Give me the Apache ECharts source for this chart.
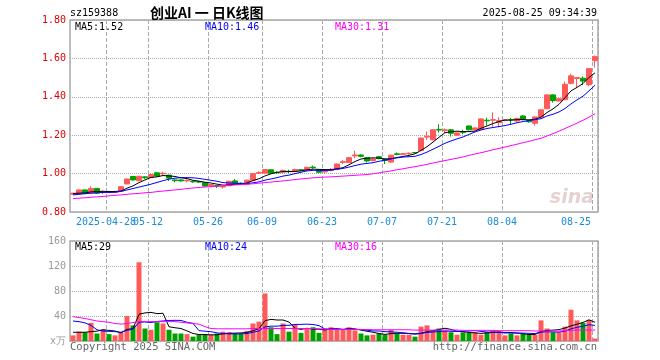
<!DOCTYPE html>
<html><head><meta charset="utf-8">
<script src="https://cdn.jsdelivr.net/npm/echarts@6/dist/echarts.min.js"></script>
<style>html,body{margin:0;padding:0;background:#fff}#c{width:660px;height:360px}</style>
</head><body><div id="c"></div>
<script>
const dates = ['2025-04-18','2025-04-21','2025-04-22','2025-04-23','2025-04-24','2025-04-25','2025-04-28','2025-04-29','2025-04-30','2025-05-06',
'2025-05-07','2025-05-08','2025-05-09','2025-05-12','2025-05-13','2025-05-14','2025-05-15','2025-05-16','2025-05-19','2025-05-20',
'2025-05-21','2025-05-22','2025-05-23','2025-05-26','2025-05-27','2025-05-28','2025-05-29','2025-05-30','2025-06-03','2025-06-04',
'2025-06-05','2025-06-06','2025-06-09','2025-06-10','2025-06-11','2025-06-12','2025-06-13','2025-06-16','2025-06-17','2025-06-18',
'2025-06-19','2025-06-20','2025-06-23','2025-06-24','2025-06-25','2025-06-26','2025-06-27','2025-06-30','2025-07-01','2025-07-02',
'2025-07-03','2025-07-04','2025-07-07','2025-07-08','2025-07-09','2025-07-10','2025-07-11','2025-07-14','2025-07-15','2025-07-16',
'2025-07-17','2025-07-18','2025-07-21','2025-07-22','2025-07-23','2025-07-24','2025-07-25','2025-07-28','2025-07-29','2025-07-30',
'2025-07-31','2025-08-01','2025-08-04','2025-08-05','2025-08-06','2025-08-07','2025-08-08','2025-08-11','2025-08-12','2025-08-13',
'2025-08-14','2025-08-15','2025-08-18','2025-08-19','2025-08-20','2025-08-21','2025-08-22','2025-08-25'];

const opens = [0.893,0.895,0.915,0.899,0.923,0.901,0.907,0.903,0.910,0.946,
0.985,0.963,0.983,0.980,1.004,0.999,0.992,0.967,0.967,0.962,
0.960,0.958,0.953,0.936,0.937,0.930,0.937,0.962,0.950,0.945,
0.966,1.002,1.002,1.020,1.006,1.008,1.012,1.014,1.020,1.018,
1.034,1.020,1.009,1.016,1.022,1.058,1.057,1.092,1.097,1.083,
1.068,1.088,1.076,1.060,1.103,1.100,1.104,1.110,1.120,1.190,
1.176,1.230,1.225,1.228,1.200,1.218,1.248,1.228,1.230,1.278,
1.278,1.266,1.277,1.282,1.274,1.300,1.276,1.262,1.295,1.338,
1.410,1.378,1.385,1.470,1.495,1.497,1.463,1.588];

const closes = [0.898,0.915,0.898,0.923,0.898,0.905,0.904,0.906,0.932,0.972,
0.967,0.986,0.978,0.995,0.987,1.002,0.976,0.963,0.962,0.965,
0.957,0.956,0.935,0.943,0.934,0.933,0.960,0.948,0.947,0.966,
1.000,1.006,1.021,1.002,1.004,1.017,1.010,1.021,1.018,1.033,
1.031,1.007,1.014,1.022,1.050,1.062,1.083,1.097,1.090,1.066,
1.076,1.078,1.068,1.096,1.100,1.104,1.106,1.108,1.185,1.195,
1.228,1.227,1.228,1.210,1.212,1.215,1.228,1.238,1.285,1.275,
1.281,1.276,1.280,1.280,1.288,1.283,1.270,1.295,1.332,1.410,
1.380,1.390,1.465,1.509,1.500,1.482,1.547,1.609];

const lows = [0.890,0.892,0.895,0.897,0.896,0.893,0.900,0.899,0.908,0.944,
0.963,0.960,0.972,0.977,0.985,0.987,0.962,0.955,0.958,0.955,
0.952,0.951,0.933,0.930,0.925,0.922,0.935,0.945,0.940,0.943,
0.964,0.998,1.000,1.000,0.998,1.005,1.003,1.010,1.012,1.015,
1.025,1.004,1.000,1.012,1.020,1.050,1.055,1.080,1.085,1.058,
1.064,1.075,1.050,1.055,1.095,1.096,1.098,1.104,1.118,1.175,
1.172,1.214,1.212,1.193,1.195,1.205,1.225,1.225,1.228,1.251,
1.244,1.241,1.272,1.255,1.265,1.278,1.265,1.250,1.292,1.335,
1.370,1.375,1.383,1.465,1.447,1.462,1.455,1.552];

const highs = [0.900,0.917,0.917,0.935,0.925,0.912,0.910,0.911,0.934,0.975,
0.988,0.988,0.986,0.997,1.008,1.010,0.994,0.970,0.970,0.970,
0.962,0.960,0.955,0.946,0.940,0.936,0.962,0.972,0.955,0.968,
1.002,1.012,1.024,1.022,1.012,1.020,1.020,1.026,1.024,1.035,
1.042,1.022,1.020,1.028,1.052,1.070,1.086,1.120,1.100,1.086,
1.080,1.090,1.078,1.098,1.110,1.108,1.110,1.112,1.188,1.220,
1.230,1.257,1.235,1.232,1.215,1.228,1.250,1.240,1.288,1.291,
1.319,1.293,1.283,1.290,1.289,1.305,1.280,1.298,1.335,1.412,
1.412,1.395,1.480,1.520,1.502,1.506,1.550,1.615];

const ma5 = [0.896,0.898,0.899,0.905,0.906,0.908,0.906,0.907,0.909,0.924,
0.936,0.953,0.967,0.980,0.983,0.990,0.988,0.985,0.978,0.974,
0.965,0.961,0.955,0.951,0.945,0.940,0.941,0.944,0.944,0.951,
0.964,0.973,0.988,0.999,1.007,1.010,1.011,1.011,1.014,1.020,
1.023,1.022,1.021,1.021,1.025,1.031,1.046,1.063,1.076,1.080,
1.082,1.081,1.076,1.077,1.084,1.089,1.095,1.103,1.121,1.140,
1.164,1.189,1.213,1.218,1.221,1.218,1.219,1.221,1.236,1.248,
1.261,1.271,1.279,1.278,1.281,1.281,1.280,1.283,1.294,1.318,
1.337,1.361,1.395,1.431,1.449,1.469,1.501,1.525];

const ma10 = [0.889,0.892,0.895,0.898,0.900,0.902,0.902,0.903,0.907,0.915,
0.922,0.930,0.937,0.945,0.954,0.963,0.971,0.976,0.979,0.979,
0.978,0.975,0.970,0.965,0.960,0.953,0.951,0.950,0.948,0.948,
0.952,0.957,0.966,0.972,0.979,0.987,0.992,1.000,1.007,1.014,
1.017,1.017,1.016,1.018,1.023,1.027,1.034,1.042,1.049,1.053,
1.057,1.064,1.070,1.077,1.082,1.086,1.088,1.090,1.099,1.112,
1.127,1.142,1.158,1.170,1.181,1.191,1.204,1.217,1.227,1.235,
1.240,1.245,1.250,1.257,1.265,1.271,1.276,1.281,1.286,1.300,
1.309,1.321,1.339,1.363,1.384,1.403,1.431,1.460];

const ma30 = [0.870,0.872,0.874,0.877,0.879,0.881,0.884,0.887,0.889,0.892,
0.895,0.897,0.900,0.902,0.906,0.909,0.912,0.915,0.918,0.922,
0.925,0.928,0.930,0.932,0.935,0.937,0.939,0.941,0.943,0.945,
0.947,0.950,0.953,0.956,0.959,0.962,0.965,0.969,0.972,0.975,
0.978,0.980,0.982,0.983,0.985,0.987,0.989,0.991,0.993,0.995,
0.999,1.004,1.009,1.014,1.020,1.025,1.031,1.036,1.042,1.048,
1.055,1.062,1.068,1.074,1.080,1.087,1.095,1.102,1.109,1.116,
1.124,1.131,1.138,1.146,1.153,1.161,1.168,1.176,1.184,1.196,
1.208,1.221,1.235,1.249,1.263,1.278,1.294,1.312];

const volumes = [9,15,14,29,12,19,11,9,14,40,
25,126,20,18,30,28,18,12,12,11,
7,10,11,10,12,15,14,12,12,16,
28,31,76,22,11,28,15,26,13,20,
22,13,20,22,18,18,22,17,12,9,
10,12,10,18,12,10,10,7,23,25,
17,20,17,14,10,14,13,14,10,14,
17,16,9,12,9,12,10,10,33,20,
14,14,23,50,33,29,34,4];

const vma5 = [14,14,14,15,15.8,17.8,17,16,13,18.6,
19.8,42.8,45,45.8,43.8,44.4,22.8,21.2,20,16.2,
12,10.4,10.2,9.8,10,11.6,12.4,12.6,13,13.8,
16.4,19.8,32.6,34.6,33.6,33.6,30.4,20.4,18.6,20.4,
19.2,18.8,17.6,19.4,19,18.2,20,19.4,17.4,15.6,
14,12,10.6,11.8,12.4,12.4,12,11.4,12.4,15,
16.4,18.4,20.4,18.6,15.6,15,13.6,13,12.2,13,
13.6,14.2,13.2,13.6,12.6,11.6,10.4,10.6,14.8,17,
17.4,18.2,20.8,24.2,26.8,29.8,33.8,30];

const vma10 = [32,31,29,25,18,15.9,15.5,15,14,17.2,
18.8,29.9,30.5,29.4,31.2,32.1,32.8,33.1,32.9,30,
28.2,16.6,15.7,14.9,13.1,11.8,11.4,11.4,11.4,11.9,
14,16.1,22.6,23.8,23.7,25,25.1,26.5,26.6,27,
26.4,24.6,19,19,19.7,18.7,19.4,18.5,18.4,17.3,
16.1,16,15,14.6,14,13.2,12,11,12.1,13.7,
14.4,15.2,15.9,15.5,15.3,15.7,16,16.7,15.4,14.3,
14.3,13.9,13.1,12.9,12.8,12.6,12.3,11.9,14.2,14.8,
14.5,14.3,15.7,19.5,21.9,23.6,26,25];

const vma30 = [39,37.5,36,34,32,31,30,28,27,28,
29.5,31,31,31,31,31,31,31,30,29,
28,27,23,20,19.5,19.5,19.5,19.5,19.5,19.5,
20,20,20,20,20,20,20,20,20,20,
20,19.5,19,18.5,18.5,18.5,18.5,18.5,18.5,18.5,
18,18,18,18,18,18,18,17.5,17.5,17.5,
17.5,17.5,17.5,17.5,17.5,17,17,17,17,17,
17,16.5,16.5,16.5,16.5,16.5,16.5,16,16,16,
16,16,16.5,17,17.5,17.5,17.5,17.5];

const tickDates = ['2025-04-28','2025-05-12','2025-05-26','2025-06-09','2025-06-23','2025-07-07','2025-07-21','2025-08-04','2025-08-25'];
const tickLabels = ['2025-04-28','05-12','05-26','06-09','06-23','07-07','07-21','08-04','08-25'];

const headerCode = 'sz159388';
const headerTitle = '创业AI 一 日K线图';
const headerTime = '2025-08-25 09:34:39';
const priceLegend = ['MA5:1.52', 'MA10:1.46', 'MA30:1.31'];
const volLegend = ['MA5:29', 'MA10:24', 'MA30:16'];
const volUnit = 'x万';
const copyrightText = 'Copyright 2025 SINA.COM';
const urlText = 'http://finance.sina.com.cn';

const MONO = '"DejaVu Sans Mono","Liberation Mono",monospace';
const UP = '#ff5a5a', DOWN = '#00a000';
const LABEL_BLUE = '#1a8cd8';
const LINECOLORS = ['#000000', '#0000ff', '#ff00ff'];

const chart = echarts.init(document.getElementById('c'), null, {renderer: 'canvas'});
const isTick = (idx) => tickDates.indexOf(dates[idx]) >= 0;
const isFirstTick = (idx) => dates[idx] === tickDates[0];
const isLaterTick = (idx) => isTick(idx) && !isFirstTick(idx);
const candleData = opens.map((o, i) => [o, closes[i], lows[i], highs[i]]);
const volData = volumes.map((v, i) => ({value: v, itemStyle: {color: closes[i] >= opens[i] ? UP : DOWN}}));

const GL = 70, GW = 528;
const splitX = {show: true, interval: isTick, lineStyle: {color: '#aaaaaa', type: 'dashed', width: 1}};
const tickX = {show: true, interval: isTick, length: 0, inside: true, lineStyle: {color: 'rgba(0,0,0,0)'}};
const richLbl = {
  n: {padding: [0, 6, 0, 0], color: LABEL_BLUE, fontFamily: MONO, fontSize: 10},
  r: {padding: [0, 38, 0, 0], color: LABEL_BLUE, fontFamily: MONO, fontSize: 10}
};
const fmtLabel = (val) => {
  const k = tickDates.indexOf(val);
  return k === tickDates.length - 1 ? '{r|' + tickLabels[k] + '}' : '{n|' + tickLabels[k] + '}';
};
const lineSeries = (name, data, color, xi, yi) => ({
  name, type: 'line', data, xAxisIndex: xi, yAxisIndex: yi, symbol: 'none', silent: true,
  lineStyle: {color, width: 1}, z: 5
});

function txt(x, y, text, color, opts) {
  return Object.assign({type: 'text', x, y, silent: true, z: 100,
    style: Object.assign({text, fill: color, font: '10px ' + MONO, textVerticalAlign: 'middle'}, opts || {})});
}

const option = {
  animation: false,
  backgroundColor: '#ffffff',
  grid: [
    {left: GL, top: 20, width: GW, height: 192, show: true, borderColor: '#a8a8a8', borderWidth: 1.5, backgroundColor: 'transparent', outerBoundsMode: 'none'},
    {left: GL, top: 241, width: GW, height: 100, show: true, borderColor: '#a8a8a8', borderWidth: 1.5, backgroundColor: 'transparent', outerBoundsMode: 'none'}
  ],
  xAxis: [
    {type: 'category', gridIndex: 0, data: dates, boundaryGap: true,
     axisLine: {show: false}, axisTick: tickX,
     axisLabel: {interval: isLaterTick, hideOverlap: false, margin: 5, color: LABEL_BLUE, fontFamily: MONO, fontSize: 10,
       formatter: fmtLabel, rich: richLbl},
     splitLine: splitX},
    {type: 'category', gridIndex: 1, data: dates, boundaryGap: true,
     axisLine: {show: false}, axisTick: tickX, axisLabel: {show: false, interval: isTick},
     splitLine: splitX},
    {type: 'category', gridIndex: 0, data: dates, boundaryGap: true, position: 'bottom',
     axisLine: {show: false}, axisTick: {show: false}, splitLine: {show: false},
     axisLabel: {interval: isFirstTick, hideOverlap: false, margin: 5, color: LABEL_BLUE, fontFamily: MONO, fontSize: 10,
       formatter: fmtLabel, rich: richLbl}}
  ],
  yAxis: [
    {type: 'value', gridIndex: 0, min: 0.8, max: 1.8, interval: 0.2, scale: false,
     axisLine: {show: false}, axisTick: {show: false},
     axisLabel: {color: '#e00000', fontFamily: MONO, fontSize: 10, margin: 4, formatter: v => v.toFixed(2)},
     splitLine: {show: true, lineStyle: {color: '#aaaaaa', type: 'dotted', width: 1}}},
    {type: 'value', gridIndex: 1, min: 0, max: 160, interval: 40,
     axisLine: {show: false}, axisTick: {show: false},
     axisLabel: {color: '#999999', fontFamily: MONO, fontSize: 10, margin: 4,
       formatter: v => v === 0 ? volUnit : String(v)},
     splitLine: {show: true, lineStyle: {color: '#aaaaaa', type: 'dotted', width: 1}}}
  ],
  series: [
    {type: 'candlestick', name: 'K', data: candleData, xAxisIndex: 0, yAxisIndex: 0, barWidth: 5, silent: true,
     itemStyle: {color: UP, color0: DOWN, borderColor: UP, borderColor0: DOWN, borderWidth: 1}, z: 3},
    lineSeries('MA5', ma5, LINECOLORS[0], 0, 0),
    lineSeries('MA10', ma10, LINECOLORS[1], 0, 0),
    lineSeries('MA30', ma30, LINECOLORS[2], 0, 0),
    {type: 'bar', name: 'VOL', data: volData, xAxisIndex: 1, yAxisIndex: 1, barWidth: 5, silent: true, z: 3},
    lineSeries('VMA5', vma5, LINECOLORS[0], 1, 1),
    lineSeries('VMA10', vma10, LINECOLORS[1], 1, 1),
    lineSeries('VMA30', vma30, LINECOLORS[2], 1, 1)
  ],
  graphic: [
    txt(70, 13, headerCode, '#000000'),
    txt(150, 13, headerTitle, '#000000', {font: 'bold 14px "Noto Sans CJK SC"'}),
    txt(597, 13, headerTime, '#000000', {textAlign: 'right'}),
    txt(75, 27, priceLegend[0], LINECOLORS[0]),
    txt(205, 27, priceLegend[1], LINECOLORS[1]),
    txt(335, 27, priceLegend[2], LINECOLORS[2]),
    txt(75, 247, volLegend[0], LINECOLORS[0]),
    txt(205, 247, volLegend[1], LINECOLORS[1]),
    txt(335, 247, volLegend[2], LINECOLORS[2]),
    txt(70, 347, copyrightText, '#666666', {font: '10.5px ' + MONO}),
    txt(597, 347, urlText, '#666666', {textAlign: 'right', font: '10.5px ' + MONO}),
    txt(594, 198, 'sina', 'rgba(190,140,140,0.4)', {textAlign: 'right', font: 'italic bold 19px "DejaVu Sans"'})
  ]
};
chart.setOption(option);
</script></body></html>
